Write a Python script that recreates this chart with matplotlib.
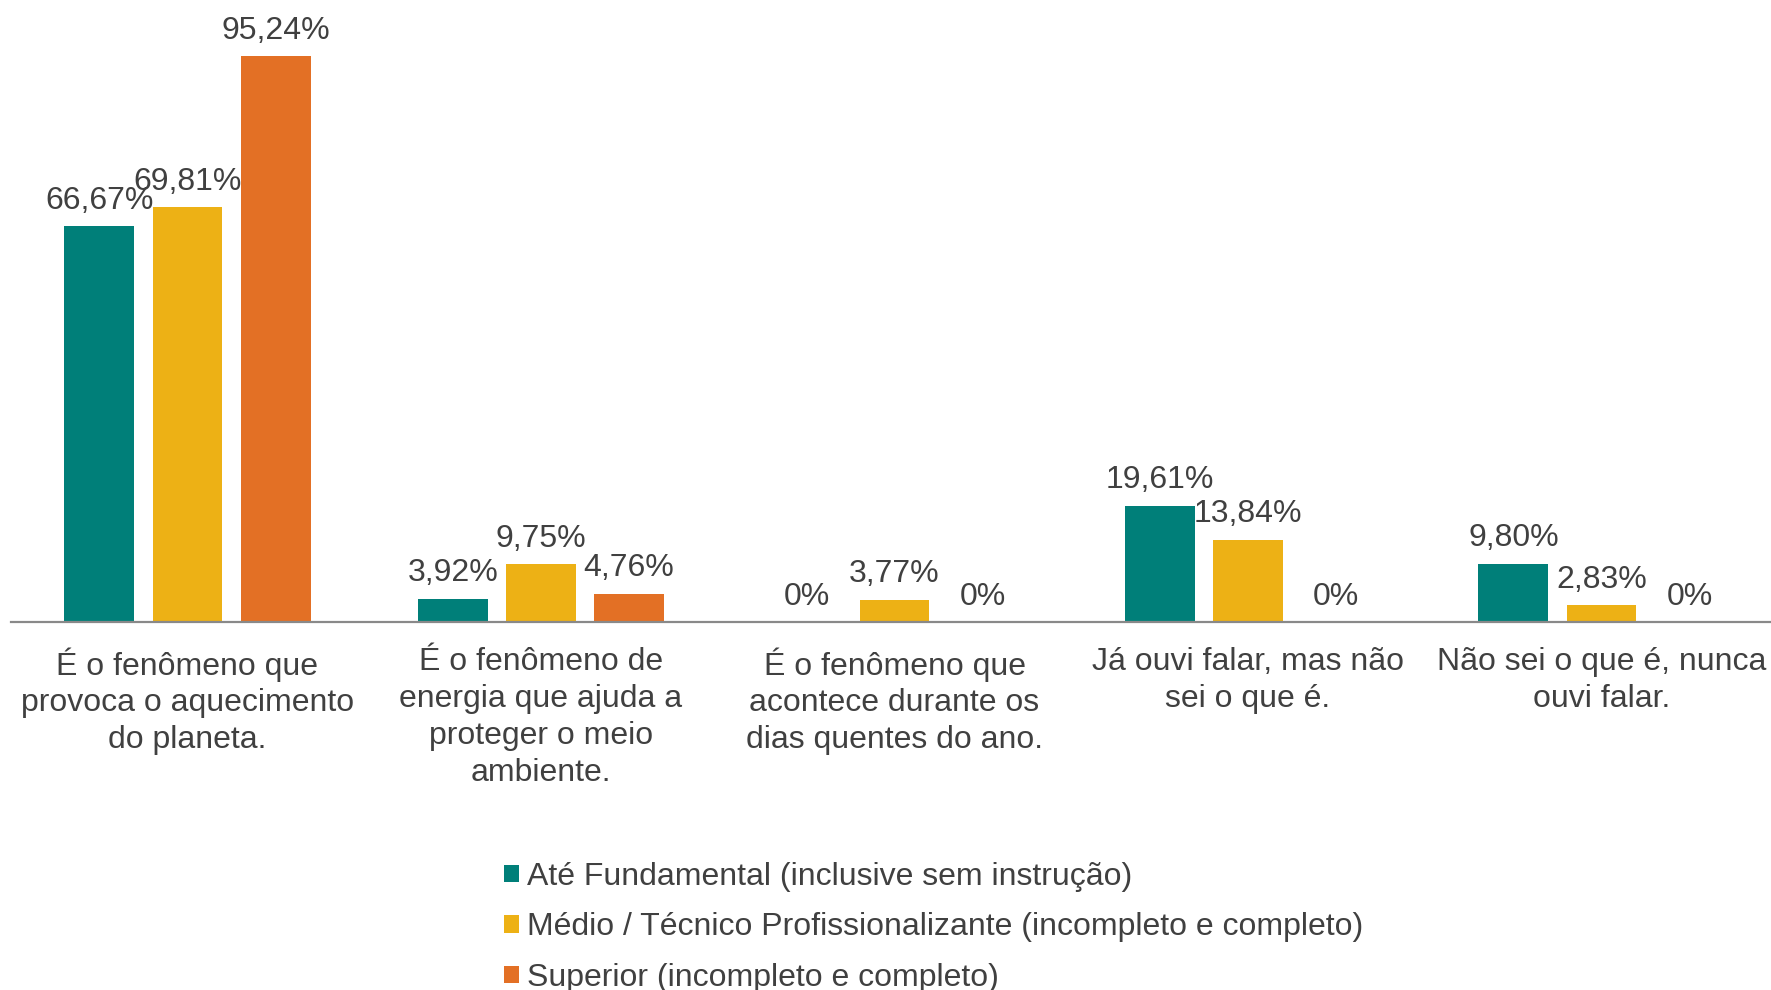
import matplotlib
matplotlib.use("Agg")
import matplotlib.pyplot as plt
import numpy as np

plt.rcParams['font.family'] = ['Liberation Sans', 'DejaVu Sans']

categories = [
    "É o fenômeno que\nprovoca o aquecimento\ndo planeta.",
    "É o fenômeno de\nenergia que ajuda a\nproteger o meio\nambiente.",
    "É o fenômeno que\nacontece durante os\ndias quentes do ano.",
    "Já ouvi falar, mas não\nsei o que é.",
    "Não sei o que é, nunca\nouvi falar.",
]
series_names = [
    "Até Fundamental (inclusive sem instrução)",
    "Médio / Técnico Profissionalizante (incompleto e completo)",
    "Superior (incompleto e completo)",
]
fundamental = [66.67, 3.92, 0, 19.61, 9.80]
medio = [69.81, 9.75, 3.77, 13.84, 2.83]
superior = [95.24, 4.76, 0, 0, 0]
colors = ["#007F79", "#EDB115", "#E37025"]

W, H = 1771, 990
fig = plt.figure(figsize=(W / 100, H / 100), dpi=100)
ax_left = 10.75 / W
ax_width = 1767.5 / W
ax_bottom = (H - 622) / H
ax_height = 622 / H
ax = fig.add_axes([ax_left, ax_bottom, ax_width, ax_height])

x = np.arange(len(categories))
offset = 0.249
width = 0.198
text_color = "#404040"
fs = 23.0

handles = []
for i, (vals, c) in enumerate(zip([fundamental, medio, superior], colors)):
    pos = x + (i - 1) * offset
    b = ax.bar(pos, vals, width=width, color=c, label=series_names[i])
    handles.append(b)
    for p, v in zip(pos, vals):
        lab = "0%" if v == 0 else f"{v:.2f}".replace(".", ",") + "%"
        ax.annotate(lab, (p, v), xytext=(0, 7.5), textcoords="offset points",
                    ha="center", va="bottom", fontsize=fs, color=text_color)

ax.set_xlim(-0.5, len(categories) - 0.5)
ax.set_ylim(0, 622 / 5.938)
for s in ["top", "left", "right"]:
    ax.spines[s].set_visible(False)
ax.spines["bottom"].set_color("#898989")
ax.spines["bottom"].set_linewidth(1.6)
ax.set_yticks([])
ax.set_xticks(x)
ax.set_xticklabels(categories, fontsize=fs, color=text_color, linespacing=1.3)
ax.tick_params(axis="x", length=0, pad=18)

leg = fig.legend(handles=handles, labels=series_names, loc="upper left",
                 bbox_to_anchor=(504 / W, (H - 862) / H), frameon=False,
                 fontsize=fs, handlelength=0.47, handleheight=0.47,
                 handletextpad=0.25, labelspacing=0.64, borderpad=0,
                 borderaxespad=0)
for t in leg.get_texts():
    t.set_color(text_color)

fig.savefig("out.png", dpi=100)
